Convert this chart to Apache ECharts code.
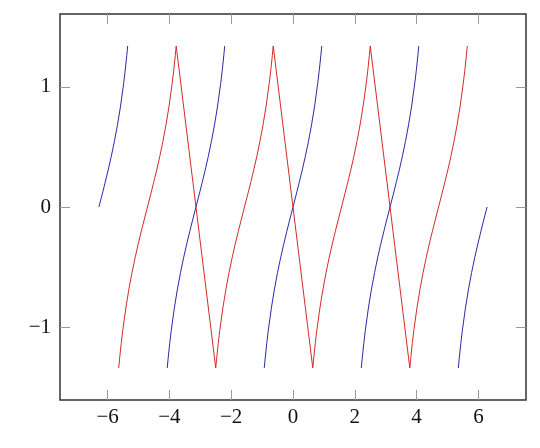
<!DOCTYPE html>
<html>
<head>
<meta charset="utf-8">
<script src="https://cdn.jsdelivr.net/npm/echarts@6/dist/echarts.min.js"></script>
<style>
html,body{margin:0;padding:0;background:#fff;}
#chart{width:540px;height:448px;}
</style>
</head>
<body>
<div id="chart"></div>
<script>
// Tick labels
var xTicks = [-6, -4, -2, 0, 2, 4, 6];
var yTicks = [-1, 0, 1];

// Shared y values of one full branch (bottom to top)
var branchY = [-1.341, -1.260, -1.138, -1.030, -0.842, -0.684, -0.546, -0.423, -0.309, -0.203, -0.100, 0,
               0.100, 0.203, 0.309, 0.423, 0.546, 0.684, 0.842, 1.030, 1.138, 1.260, 1.341];
var halfUpY = [0, 0.100, 0.203, 0.309, 0.423, 0.546, 0.684, 0.842, 1.030, 1.138, 1.260, 1.341];
var halfDownY = [-1.341, -1.260, -1.138, -1.030, -0.842, -0.684, -0.546, -0.423, -0.309, -0.203, -0.100, 0];

// Blue segments (x values)
var blueX1 = [-6.28, -6.18, -6.08, -5.98, -5.88, -5.78, -5.68, -5.58, -5.48, -5.43, -5.38, -5.35];
var blueX2 = [-4.07, -4.04, -3.99, -3.94, -3.84, -3.74, -3.64, -3.54, -3.44, -3.34, -3.24, -3.14,
              -3.04, -2.94, -2.84, -2.74, -2.64, -2.54, -2.44, -2.34, -2.29, -2.24, -2.21];
var blueX3 = [-0.93, -0.90, -0.85, -0.80, -0.70, -0.60, -0.50, -0.40, -0.30, -0.20, -0.10, 0,
              0.10, 0.20, 0.30, 0.40, 0.50, 0.60, 0.70, 0.80, 0.85, 0.90, 0.93];
var blueX4 = [2.21, 2.24, 2.29, 2.34, 2.44, 2.54, 2.64, 2.74, 2.84, 2.94, 3.04, 3.14,
              3.24, 3.34, 3.44, 3.54, 3.64, 3.74, 3.84, 3.94, 3.99, 4.04, 4.07];
var blueX5 = [5.35, 5.38, 5.43, 5.48, 5.58, 5.68, 5.78, 5.88, 5.98, 6.08, 6.18, 6.28];

// Red branches (x values); red is one connected line
var redX1 = [-5.64, -5.61, -5.56, -5.51, -5.41, -5.31, -5.21, -5.11, -5.01, -4.91, -4.81, -4.71,
             -4.61, -4.51, -4.41, -4.31, -4.21, -4.11, -4.01, -3.91, -3.86, -3.81, -3.78];
var redX2 = [-2.50, -2.47, -2.42, -2.37, -2.27, -2.17, -2.07, -1.97, -1.87, -1.77, -1.67, -1.57,
             -1.47, -1.37, -1.27, -1.17, -1.07, -0.97, -0.87, -0.77, -0.72, -0.67, -0.64];
var redX3 = [0.64, 0.67, 0.72, 0.77, 0.87, 0.97, 1.07, 1.17, 1.27, 1.37, 1.47, 1.57,
             1.67, 1.77, 1.87, 1.97, 2.07, 2.17, 2.27, 2.37, 2.42, 2.47, 2.50];
var redX4 = [3.78, 3.81, 3.86, 3.91, 4.01, 4.11, 4.21, 4.31, 4.41, 4.51, 4.61, 4.71,
             4.81, 4.91, 5.01, 5.11, 5.21, 5.31, 5.41, 5.51, 5.56, 5.61, 5.64];

function zip(xs, ys) { return xs.map(function (x, i) { return [x, ys[i]]; }); }

var blueSegs = [zip(blueX1, halfUpY), zip(blueX2, branchY), zip(blueX3, branchY),
                zip(blueX4, branchY), zip(blueX5, halfDownY)];
var redData = [].concat(zip(redX1, branchY), zip(redX2, branchY), zip(redX3, branchY), zip(redX4, branchY));

var BLUE = '#2a2aa8', RED = '#d42a2a';
var fontFam = '"Liberation Serif", "DejaVu Serif", serif';

function fmt(v) { return v < 0 ? '\u2212' + Math.abs(v) : String(v); }

var series = blueSegs.map(function (d) {
  return { type: 'line', data: d, showSymbol: false, silent: true, animation: false,
           lineStyle: { color: BLUE, width: 1 }, xAxisIndex: 0, yAxisIndex: 0 };
});
series.push({ type: 'line', data: redData, showSymbol: false, silent: true, animation: false,
              lineStyle: { color: RED, width: 1 }, xAxisIndex: 0, yAxisIndex: 0 });

var tickStyle = { color: '#999', width: 1 };
var chart = echarts.init(document.getElementById('chart'), null, { renderer: 'canvas' });
chart.setOption({
  animation: false,
  backgroundColor: '#fff',
  grid: { left: 60, right: 14, top: 14, bottom: 48, show: true, borderColor: '#333', borderWidth: 1.5,
          backgroundColor: 'transparent' },
  xAxis: [
    { type: 'value', min: -7.54, max: 7.54, position: 'bottom',
      axisLine: { show: false, onZero: false }, splitLine: { show: false },
      axisTick: { show: true, inside: true, length: 10, customValues: xTicks, lineStyle: tickStyle },
      axisLabel: { customValues: xTicks, formatter: fmt, color: '#111', fontFamily: fontFam, fontSize: 21, margin: 7 } },
    { type: 'value', min: -7.54, max: 7.54, position: 'top',
      axisLine: { show: false, onZero: false }, splitLine: { show: false },
      axisTick: { show: true, inside: true, length: 10, customValues: xTicks, lineStyle: tickStyle },
      axisLabel: { show: false } }
  ],
  yAxis: [
    { type: 'value', min: -1.608, max: 1.608, position: 'left',
      axisLine: { show: false, onZero: false }, splitLine: { show: false },
      axisTick: { show: true, inside: true, length: 10, customValues: yTicks, lineStyle: tickStyle },
      axisLabel: { customValues: yTicks, formatter: fmt, color: '#111', fontFamily: fontFam, fontSize: 21, margin: 9 } },
    { type: 'value', min: -1.608, max: 1.608, position: 'right',
      axisLine: { show: false, onZero: false }, splitLine: { show: false },
      axisTick: { show: true, inside: true, length: 10, customValues: yTicks, lineStyle: tickStyle },
      axisLabel: { show: false } }
  ],
  series: series
});
</script>
</body>
</html>
